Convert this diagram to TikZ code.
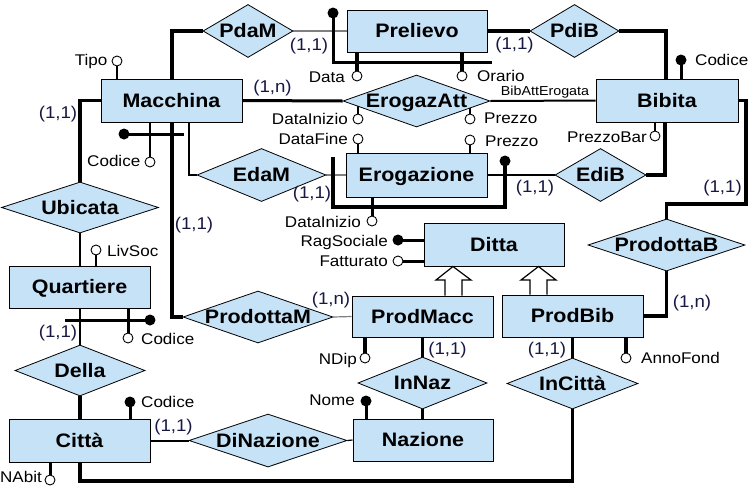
\documentclass[tikz,border=0pt]{standalone}
\usepackage{fontspec}
\setmainfont{Liberation Sans}[FakeStretch=1.1]
\usetikzlibrary{shapes.geometric}
\definecolor{ebl}{RGB}{197,226,247}
\definecolor{cardc}{RGB}{24,24,68}
\pgfdeclarelayer{bg}
\pgfsetlayers{bg,main}
\tikzset{
  ent/.style={draw, line width=1pt, fill=ebl, inner sep=0pt,
    font=\fontsize{19.5}{19.5}\selectfont\bfseries, text height=13.9pt, text depth=0pt},
  rel/.style={diamond, draw, line width=0.8pt, fill=ebl, inner sep=0pt,
    font=\fontsize{19.5}{19.5}\selectfont\bfseries, text height=13.9pt, text depth=0pt},
  att/.style={circle, draw, line width=0.9pt, fill=white, inner sep=0pt, minimum size=10pt},
  idf/.style={circle, fill=black, inner sep=0pt, minimum size=11pt},
  alab/.style={font=\fontsize{15.5}{16}\selectfont, inner sep=0pt, text height=11pt, text depth=0pt},
  slab/.style={font=\fontsize{13}{13}\selectfont, inner sep=0pt},
  card/.style={font=\fontsize{17}{17}\selectfont, text=cardc, inner sep=0pt},
  thk/.style={line width=3.6pt},
  mthk/.style={line width=3pt},
  med/.style={line width=2pt},
  lin/.style={line width=1.2pt},
  thn/.style={line width=1.2pt, gray},
  gen/.style={line width=1.2pt, line join=miter},
}
\begin{document}
\begin{tikzpicture}[x=1pt,y=-1pt]
\useasboundingbox (0,0) rectangle (756,488);
% entities
\node[ent, minimum width=140pt, minimum height=42pt] (prel) at (417,31) {Prelievo};
\node[ent, minimum width=141pt, minimum height=43pt] (mac) at (171.5,100.5) {Macchina};
\node[ent, minimum width=142pt, minimum height=43pt] (bib) at (667,100.5) {Bibita};
\node[ent, minimum width=141pt, minimum height=44pt] (erog) at (416.5,175) {Erogazione};
\node[ent, minimum width=140pt, minimum height=43pt] (ditta) at (494,244.5) {Ditta};
\node[ent, minimum width=141pt, minimum height=42pt] (quart) at (79.5,287) {Quartiere};
\node[ent, minimum width=141pt, minimum height=41pt] (pmacc) at (422.5,316.5) {ProdMacc};
\node[ent, minimum width=141pt, minimum height=42pt] (pbib) at (572.5,316) {ProdBib};
\node[ent, minimum width=141pt, minimum height=43pt] (citta) at (79.5,440.5) {Città};
\node[ent, minimum width=140pt, minimum height=42pt] (naz) at (423,440) {Nazione};
% relationships
\node[rel, minimum width=90pt, minimum height=53pt] (pdam) at (248,31) {\makebox[0pt]{PdaM}};
\node[rel, minimum width=89pt, minimum height=53pt] (pdib) at (574.5,31) {\makebox[0pt]{PdiB}};
\node[rel, minimum width=147pt, minimum height=52pt] (erat) at (416.5,101) {\makebox[0pt]{ErogazAtt}};
\node[rel, minimum width=129pt, minimum height=53pt] (edam) at (261.5,175) {\makebox[0pt]{EdaM}};
\node[rel, minimum width=91pt, minimum height=53pt] (edib) at (600.5,175) {\makebox[0pt]{EdiB}};
\node[rel, minimum width=157pt, minimum height=51pt] (ubic) at (80,207.5) {\makebox[0pt]{Ubicata}};
\node[rel, minimum width=157pt, minimum height=52pt] (prodb) at (666.5,245) {\makebox[0pt]{ProdottaB}};
\node[rel, minimum width=150pt, minimum height=52pt] (prodm) at (258,317) {\makebox[0pt]{ProdottaM}};
\node[rel, minimum width=130pt, minimum height=51pt] (della) at (80,370.5) {\makebox[0pt]{Della}};
\node[rel, minimum width=129pt, minimum height=52pt] (innaz) at (422.5,383) {\makebox[0pt]{InNaz}};
\node[rel, minimum width=131pt, minimum height=51pt] (incit) at (572.5,383.5) {\makebox[0pt]{InCittà}};
\node[rel, minimum width=158pt, minimum height=53pt] (dinaz) at (268,440.5) {\makebox[0pt]{DiNazione}};
% attribute circles
\node[att] (aTipo) at (117,61) {};
\node[att] (aCodM) at (150,162) {};
\node[att] (aData) at (357,76) {};
\node[att] (aOra) at (462,76) {};
\node[att] (aDIa) at (358,119) {};
\node[att] (aPra) at (470,119) {};
\node[att] (aDF) at (358,139) {};
\node[att] (aPre) at (470,140) {};
\node[att] (aPB) at (655,136) {};
\node[idf] (aCodB) at (681,60) {};
\node[att] (aDIe) at (372,221) {};
\node[idf] (aRag) at (398,240) {};
\node[att] (aFat) at (398,261) {};
\node[att] (aLiv) at (96,250) {};
\node[att] (aCodQ) at (128,338) {};
\node[att] (aNDip) at (365,358) {};
\node[idf] (aNome) at (366,401) {};
\node[idf] (aCodC) at (130,402) {};
\node[att] (aNAb) at (50,480) {};
\node[att] (aAF) at (626,358) {};
% identifier dots
\node[idf] (idPrel) at (333,13) {};
\node[idf] (idMac) at (124,134) {};
\node[idf] (idErog) at (505,161) {};
\node[idf] (idQuart) at (150,320) {};
% attribute labels
\node[alab, anchor=east] (tTipo) at (107.5,60) {Tipo};
\node[alab, anchor=east] (tCodM) at (140.5,161) {Codice};
\node[alab, anchor=east] (tData) at (345,77) {Data};
\node[alab, anchor=west] (tOra) at (477,76) {Orario};
\node[alab, anchor=east] (tDIa) at (348,119) {DataInizio};
\node[alab, anchor=west] (tPra) at (484,118) {Prezzo};
\node[alab, anchor=east] (tDF) at (348,139) {DataFine};
\node[alab, anchor=west] (tPre) at (485,141) {Prezzo};
\node[alab, anchor=east] (tPB) at (647,137) {PrezzoBar};
\node[alab, anchor=west] (tCodB) at (695,60) {Codice};
\node[alab, anchor=east] (tDIe) at (361,222) {DataInizio};
\node[alab, anchor=east] (tRag) at (388,241) {RagSociale};
\node[alab, anchor=east] (tFat) at (388,261) {Fatturato};
\node[alab, anchor=west] (tLiv) at (107,251) {LivSoc};
\node[alab, anchor=west] (tCodQ) at (141,339) {Codice};
\node[alab, anchor=east] (tNDip) at (357,359) {NDip};
\node[alab, anchor=east] (tNome) at (355,400) {Nome};
\node[alab, anchor=west] (tCodC) at (141,402) {Codice};
\node[alab, anchor=east] (tNAb) at (42,477) {NAbit};
\node[alab, anchor=west] (tAF) at (641,358) {AnnoFond};
\node[slab] (tBAE) at (545,92.5) {BibAttErogata};
% cardinalities
\node[card] (c1) at (309,46) {(1,1)};
\node[card] (c2) at (514.5,45) {(1,1)};
\node[card] (c3) at (272.5,88.5) {(1,n)};
\node[card] (c4) at (58,114) {(1,1)};
\node[card] (c5) at (312,194) {(1,1)};
\node[card] (c6) at (535,188) {(1,1)};
\node[card] (c7) at (722.5,188) {(1,1)};
\node[card] (c8) at (194,225) {(1,1)};
\node[card] (c9) at (331,300) {(1,n)};
\node[card] (c10) at (692,303.5) {(1,n)};
\node[card] (c11) at (447.5,350.5) {(1,1)};
\node[card] (c12) at (547,350) {(1,1)};
\node[card] (c13) at (58,333.5) {(1,1)};
\node[card] (c14) at (173.5,427.5) {(1,1)};
% generalizations
\draw[gen] (pmacc.north -| 445,0) -- (445,280) -- (436,280) -- (ditta.south -| 453,0) -- (471,280) -- (462,280) -- (pmacc.north -| 462,0);
\draw[gen] (pbib.north -| 530,0) -- (530,280) -- (521,280) -- (ditta.south -| 538.5,0) -- (556,280) -- (547,280) -- (pbib.north -| 547,0);
\begin{pgfonlayer}{bg}
% relationship connectors
\draw[thk] (mac.north -| 172,0) |- (pdam.west);
\draw[thn] (pdam.east) -- (prel.west);
\draw[thk] (prel.east) -- (pdib.west);
\draw[thk] (pdib.east) -| (bib.north -| 666,0);
\draw[mthk] (mac.east) -- (erat.west);
\draw[med] (erat.east) -- (bib.west);
\draw[thk] (ubic.north) |- (mac.west);
\draw[med] (ubic.south) -- (ubic.south |- quart.north);
\draw[med] (quart.south -| della.north) -- (della.north);
\draw[thk] (della.south) -- (della.south |- citta.north);
\draw[med] (citta.east) -- (dinaz.west);
\draw[lin] (dinaz.east) -- (naz.west);
\draw[thk] (incit.south) |- (80,481) -- (citta.south -| 80,0);
\draw[thk] (pbib.south -| incit.north) -- (incit.north);
\draw[thk] (pmacc.south -| innaz.north) -- (innaz.north);
\draw[thk] (innaz.south) -- (innaz.south |- naz.north);
\draw[thk] (mac.south -| 172,0) |- (prodm.west);
\draw[thn] (prodm.east) -- (pmacc.west);
\draw[thk] (prodb.south) |- (pbib.east);
\draw[thk] (bib.east) -| (746,204) -| (prodb.north);
\draw[med] (mac.south -| 189,0) |- (edam.west);
\draw[thn] (edam.east) -- (erog.west);
\draw[med] (erog.east) -- (edib.west);
\draw[thk] (edib.east) -| (bib.south -| 665,0);
% identifiers
\draw[mthk] (idPrel.center) |- (492,62);
\draw[mthk] (idMac.center) -- (184,134);
\draw[thk] (333,157) |- (505,207) -- (idErog.center);
\draw[mthk] (65,320) -- (idQuart.center);
% attribute lines
\draw[med] (aTipo.center) -- (aTipo |- mac.north);
\draw[med] (aCodM.center) -- (aCodM |- mac.south);
\draw[thk] (aData.center) -- (aData |- prel.south);
\draw[thk] (aOra.center) -- (aOra |- prel.south);
\draw[med] (aDIa.center) -- (aDIa |- erat.center);
\draw[med] (aPra.center) -- (aPra |- erat.center);
\draw[med] (aDF.center) -- (aDF |- erog.north);
\draw[med] (aPre.center) -- (aPre |- erog.north);
\draw[med] (aPB.center) -- (aPB |- bib.south);
\draw[mthk] (aCodB.center) -- (aCodB |- bib.north);
\draw[mthk] (aDIe.center) -- (aDIe |- erog.south);
\draw[mthk] (aRag.center) -- (aRag -| ditta.west);
\draw[mthk] (aFat.center) -- (aFat -| ditta.west);
\draw[lin] (aLiv.center) -- (aLiv |- quart.north);
\draw[mthk] (aCodQ.center) -- (aCodQ |- quart.south);
\draw[thk] (aNDip.center) -- (aNDip |- pmacc.south);
\draw[mthk] (aNome.center) -- (aNome |- naz.north);
\draw[mthk] (aCodC.center) -- (aCodC |- citta.north);
\draw[mthk] (aNAb.center) -- (aNAb |- citta.south);
\draw[thk] (aAF.center) -- (aAF |- pbib.south);
\end{pgfonlayer}
\end{tikzpicture}
\end{document}
